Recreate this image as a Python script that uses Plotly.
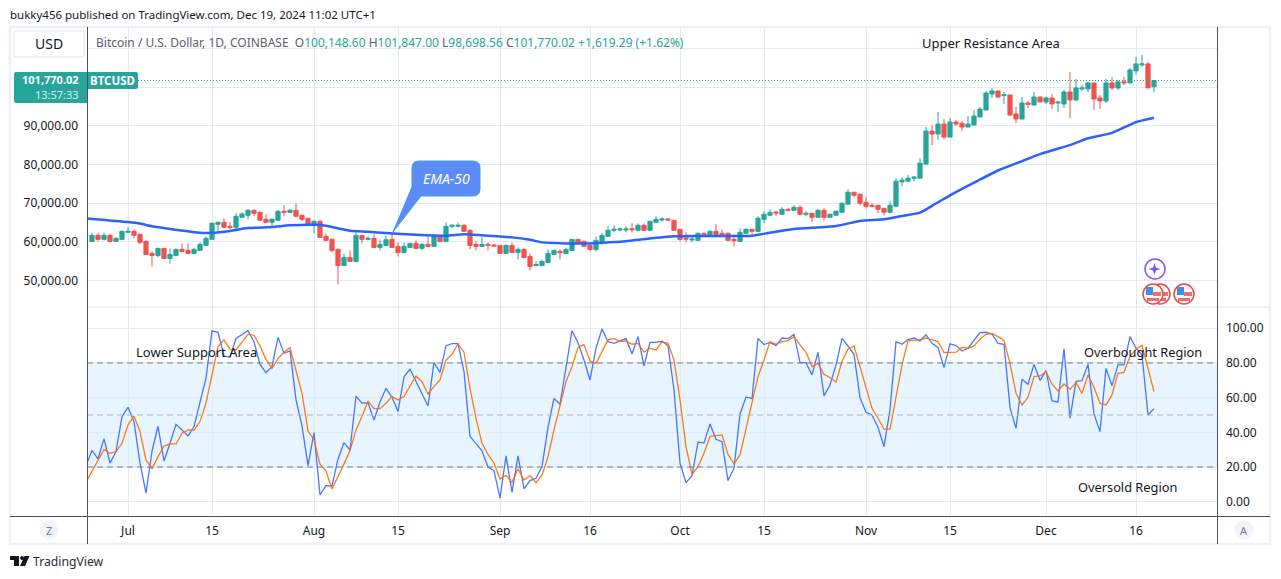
import pandas as pd
import plotly.graph_objects as go

# BTCUSD daily candles, thousands of USD (25 Jun - 19 Dec 2024)
opens = [
    60.09, 61.65, 60.61, 61.65, 60.09, 60.61, 62.43, 62.69, 61.91, 60.09,
    56.97, 56.45, 58.27, 55.67, 56.45, 58.01, 57.75, 56.97, 57.75, 59.05,
    60.61, 64.51, 65.03, 63.99, 63.73, 66.33, 66.85, 68.14, 67.62, 65.81,
    65.03, 65.55, 67.88, 67.62, 68.14, 66.85, 66.07, 64.25, 65.29, 61.39,
    60.61, 58.01, 53.85, 55.93, 54.89, 61.65, 60.61, 60.87, 58.53, 59.05,
    60.61, 58.79, 57.23, 58.53, 59.57, 58.27, 59.31, 58.79, 61.39, 60.09,
    63.99, 63.99, 64.25, 62.95, 59.31, 58.79, 59.31, 59.14, 59.05, 56.97,
    59.05, 57.23, 58.01, 56.19, 53.85, 53.85, 54.63, 56.71, 57.49, 56.97,
    57.75, 60.61, 60.09, 59.05, 58.01, 60.09, 61.39, 62.95, 63.04, 63.04,
    63.38, 62.95, 64.25, 62.95, 65.03, 65.63, 65.89, 65.55, 63.21, 60.96,
    60.44, 60.35, 62.17, 61.39, 62.69, 62.17, 62.17, 60.61, 60.09, 62.17,
    63.21, 62.69, 65.81, 66.85, 67.71, 67.10, 68.40, 68.14, 68.92, 67.10,
    67.36, 66.33, 68.14, 66.33, 66.85, 67.62, 69.70, 72.82, 72.30, 70.22,
    69.44, 69.44, 68.66, 67.62, 69.18, 75.50, 75.68, 76.46, 76.46, 80.10,
    88.67, 87.89, 90.49, 87.11, 91.01, 90.66, 89.71, 90.23, 92.31, 94.12,
    98.28, 99.06, 97.85, 98.02, 93.09, 91.79, 95.94, 95.42, 97.50, 96.20,
    97.24, 95.94, 95.68, 98.80, 96.72, 99.58, 99.58, 101.14, 97.24, 96.46,
    101.14, 99.84, 101.45, 101.14, 104.26, 105.82, 106.07, 100.15,
]
highs = [
    62.34, 62.34, 62.34, 62.08, 61.13, 62.95, 63.73, 63.21, 62.17, 60.35,
    57.49, 58.53, 58.45, 58.27, 58.27, 59.57, 59.57, 58.53, 59.83, 61.39,
    65.03, 65.29, 66.07, 65.03, 67.36, 67.62, 68.40, 68.40, 67.88, 67.10,
    66.07, 68.14, 69.44, 68.40, 69.96, 67.10, 66.07, 65.55, 65.55, 62.17,
    60.87, 58.27, 56.97, 57.75, 62.43, 61.65, 61.39, 61.91, 60.61, 61.56,
    62.26, 59.83, 59.83, 59.57, 60.35, 59.57, 61.39, 61.91, 61.56, 65.03,
    64.51, 65.03, 64.51, 63.21, 60.09, 61.13, 59.83, 59.31, 59.05, 59.31,
    59.83, 58.53, 58.27, 56.97, 54.89, 55.41, 58.01, 58.01, 58.01, 58.53,
    60.61, 60.61, 60.26, 59.31, 61.39, 62.34, 63.99, 64.25, 63.73, 63.99,
    64.77, 64.77, 64.77, 65.55, 66.59, 66.33, 66.07, 65.55, 63.21, 62.43,
    61.39, 62.43, 62.43, 62.95, 64.51, 63.21, 62.43, 61.91, 63.47, 63.47,
    63.21, 66.59, 67.88, 68.40, 67.88, 68.92, 68.66, 69.44, 69.44, 67.88,
    67.36, 68.40, 68.66, 67.36, 68.14, 70.22, 73.60, 72.82, 72.56, 71.52,
    69.96, 69.44, 68.66, 70.48, 76.46, 76.72, 77.24, 76.98, 81.65, 89.71,
    90.23, 93.60, 91.79, 92.05, 91.53, 91.27, 92.57, 94.12, 94.90, 99.06,
    99.84, 99.06, 98.80, 98.02, 94.90, 97.50, 96.46, 98.80, 97.50, 97.50,
    98.28, 96.20, 99.32, 104.00, 102.18, 100.62, 101.40, 101.14, 98.02, 102.18,
    102.70, 101.92, 102.70, 105.04, 107.89, 108.41, 106.59, 101.85,
]
lows = [
    60.09, 60.09, 60.35, 59.83, 60.09, 60.61, 62.43, 60.87, 59.31, 56.71,
    53.59, 55.93, 55.67, 54.37, 56.19, 57.23, 56.97, 56.71, 57.75, 59.05,
    60.61, 62.60, 63.73, 63.21, 63.21, 66.33, 65.81, 66.59, 65.55, 65.03,
    63.73, 65.55, 66.59, 67.36, 66.33, 65.29, 64.25, 62.17, 61.13, 60.09,
    57.23, 48.92, 53.85, 54.89, 54.63, 59.57, 60.35, 58.27, 57.75, 58.79,
    58.53, 56.19, 56.97, 58.53, 58.27, 57.75, 58.53, 58.79, 59.83, 60.09,
    63.47, 63.73, 62.69, 58.01, 57.75, 58.79, 57.75, 58.79, 56.97, 56.97,
    57.23, 55.41, 55.67, 52.56, 53.59, 53.59, 54.63, 56.71, 55.41, 56.97,
    57.75, 59.31, 58.79, 57.49, 57.49, 59.31, 61.39, 62.43, 62.69, 62.43,
    62.43, 62.69, 62.95, 62.69, 64.77, 65.29, 65.55, 62.95, 60.09, 59.83,
    59.83, 60.35, 61.56, 61.39, 61.91, 61.91, 60.35, 58.79, 60.09, 62.17,
    61.91, 62.43, 64.77, 66.85, 66.59, 67.10, 67.88, 68.14, 66.85, 66.59,
    65.03, 66.33, 65.55, 66.33, 66.85, 67.62, 69.70, 71.52, 69.44, 68.66,
    68.92, 67.36, 66.85, 67.36, 69.18, 74.38, 75.68, 75.68, 76.46, 80.10,
    85.03, 86.33, 86.59, 87.11, 89.97, 88.67, 89.71, 90.23, 92.31, 94.12,
    97.24, 97.24, 95.68, 92.57, 90.75, 91.79, 94.64, 95.42, 96.20, 95.68,
    94.38, 93.60, 94.64, 92.05, 96.46, 99.06, 98.80, 94.12, 94.38, 95.94,
    99.32, 99.32, 100.62, 101.14, 103.22, 105.30, 99.84, 98.70,
]
closes = [
    61.65, 60.61, 61.65, 60.09, 60.87, 62.69, 62.69, 61.65, 59.83, 56.71,
    56.45, 58.27, 55.67, 56.71, 58.01, 57.49, 56.97, 58.01, 59.31, 60.87,
    64.77, 65.03, 63.73, 63.73, 66.59, 67.19, 68.14, 67.36, 65.55, 65.03,
    65.81, 67.88, 67.62, 68.14, 66.59, 65.81, 64.25, 65.29, 61.13, 60.35,
    57.75, 53.85, 55.93, 54.89, 61.65, 60.61, 60.87, 58.53, 59.31, 60.52,
    58.53, 57.23, 58.79, 59.57, 58.27, 59.31, 58.79, 61.39, 60.09, 63.99,
    64.25, 64.25, 62.69, 59.05, 58.79, 59.31, 59.05, 58.88, 56.97, 59.05,
    57.23, 58.01, 55.93, 53.59, 54.11, 54.89, 56.97, 57.75, 57.14, 58.01,
    60.61, 59.57, 58.79, 58.01, 60.35, 61.65, 62.95, 63.21, 63.30, 63.30,
    63.12, 64.25, 62.95, 65.29, 65.81, 65.89, 65.63, 62.95, 60.61, 60.70,
    60.70, 62.17, 61.91, 62.69, 61.91, 61.91, 60.35, 60.26, 62.43, 63.21,
    62.69, 66.07, 67.10, 67.62, 67.45, 68.40, 68.14, 68.92, 67.10, 67.36,
    66.33, 68.14, 66.33, 67.10, 67.88, 69.96, 72.82, 72.04, 69.96, 69.18,
    69.18, 68.40, 67.62, 69.44, 75.68, 75.94, 76.46, 76.72, 80.35, 88.67,
    87.89, 90.49, 87.11, 91.01, 90.49, 89.71, 90.49, 92.57, 94.38, 98.54,
    99.06, 97.50, 98.11, 92.83, 91.79, 95.94, 95.59, 97.50, 96.20, 97.24,
    95.68, 96.20, 98.80, 96.72, 99.84, 99.84, 101.14, 96.98, 96.46, 101.14,
    99.84, 101.40, 101.14, 104.52, 106.07, 106.07, 99.84, 101.77,
]

# EMA-50, read at these dates only
ema_dates = [
    "2024-06-24", "2024-07-01", "2024-07-03", "2024-07-05", "2024-07-08", "2024-07-11",
    "2024-07-13", "2024-07-15", "2024-07-18", "2024-07-21", "2024-07-25", "2024-07-28",
    "2024-08-01", "2024-08-03", "2024-08-05", "2024-08-07", "2024-08-10", "2024-08-13",
    "2024-08-18", "2024-08-23", "2024-08-26", "2024-08-29", "2024-09-03", "2024-09-06",
    "2024-09-08", "2024-09-12", "2024-09-16", "2024-09-20", "2024-09-24", "2024-09-30",
    "2024-10-05", "2024-10-13", "2024-10-16", "2024-10-20", "2024-10-27", "2024-10-31",
    "2024-11-04", "2024-11-07", "2024-11-10", "2024-11-12", "2024-11-15", "2024-11-19",
    "2024-11-23", "2024-11-27", "2024-11-30", "2024-12-05", "2024-12-08", "2024-12-12",
    "2024-12-16", "2024-12-19",
]
ema_values = [
    66.07, 65.10, 64.70, 64.00, 63.30, 62.70,
    62.30, 62.30, 62.80, 63.55, 63.80, 64.25,
    64.40, 64.15, 63.47, 62.87, 62.60, 62.25,
    61.80, 61.56, 61.91, 61.65, 61.13, 60.50,
    59.83, 59.57, 59.57, 59.90, 60.50, 61.39,
    61.48, 61.56, 62.34, 63.30, 64.07, 65.37,
    65.81, 66.67, 67.54, 69.30, 72.00, 75.30,
    78.45, 80.90, 82.70, 85.03, 86.80, 88.20,
    91.00, 92.13,
]

# lower pane, K and D, one value a day from 24 Jun
stoch_k = [
    20.8, 29.6, 24.7, 36.4, 22.2, 28.9, 49.1, 54.4, 46.2, 22.2,
    4.9, 29.1, 43.5, 23.5, 33.7, 44.6, 41.4, 37.9, 43.3, 56.8,
    71.2, 98.5, 97.7, 84.0, 83.3, 94.2, 96.5, 98.6, 92.3, 79.2,
    74.4, 77.9, 94.8, 85.6, 86.9, 58.7, 43.7, 20.8, 39.8, 3.9,
    9.3, 9.1, 24.5, 34.1, 29.8, 60.8, 56.8, 57.0, 47.1, 57.5,
    65.4, 60.2, 52.0, 72.1, 76.4, 69.2, 62.5, 55.2, 80.2, 74.6,
    90.0, 91.2, 91.2, 75.0, 37.7, 33.5, 29.3, 20.0, 17.9, 2.0,
    26.4, 5.4, 26.4, 7.4, 12.2, 13.5, 20.2, 42.9, 59.6, 56.2,
    76.9, 98.6, 91.7, 81.7, 70.2, 88.5, 99.6, 92.3, 91.3, 92.7,
    94.0, 85.2, 95.2, 78.3, 91.9, 91.9, 92.5, 90.0, 64.4, 22.2,
    11.0, 15.0, 34.3, 33.9, 44.8, 36.0, 34.6, 12.2, 19.3, 50.6,
    60.4, 59.4, 94.2, 90.6, 91.9, 90.0, 94.4, 94.0, 96.5, 80.2,
    80.2, 73.1, 86.2, 61.0, 67.3, 78.9, 94.2, 89.8, 85.0, 60.0,
    51.6, 50.0, 42.9, 31.8, 52.9, 92.3, 90.8, 93.5, 94.4, 92.7,
    96.3, 91.3, 89.0, 77.3, 91.0, 90.0, 86.9, 88.5, 92.9, 97.5,
    97.7, 96.7, 91.3, 90.8, 54.4, 42.3, 70.6, 67.7, 79.2, 70.0,
    75.6, 58.1, 57.5, 88.1, 48.1, 69.4, 69.8, 79.2, 50.6, 40.4,
    76.9, 66.9, 78.9, 78.9, 95.2, 88.5, 84.6, 50.0, 53.7,
]
stoch_d = [
    11.2, 17.4, 24.1, 30.2, 27.9, 28.9, 33.7, 44.3, 49.4, 40.4,
    24.1, 18.9, 26.0, 32.1, 33.3, 33.3, 39.5, 41.4, 41.2, 46.2,
    56.8, 73.1, 89.4, 93.3, 87.9, 87.5, 92.3, 96.5, 96.0, 89.8,
    82.1, 76.9, 82.5, 86.2, 88.8, 76.0, 62.5, 40.8, 35.6, 21.6,
    17.7, 7.3, 14.1, 21.8, 29.5, 41.4, 49.1, 58.1, 53.7, 53.7,
    56.8, 60.6, 58.7, 60.6, 66.7, 72.5, 69.2, 62.1, 66.4, 70.2,
    81.7, 85.0, 91.0, 86.2, 65.4, 48.1, 33.7, 27.3, 22.2, 13.1,
    15.2, 11.2, 18.9, 12.5, 15.0, 11.0, 15.4, 26.0, 41.4, 54.8,
    69.2, 77.9, 89.0, 90.6, 81.2, 79.8, 86.5, 93.3, 94.2, 92.3,
    92.7, 90.8, 91.3, 86.2, 88.5, 87.5, 92.1, 91.3, 81.7, 58.7,
    31.8, 15.8, 20.2, 27.9, 37.7, 38.3, 38.5, 27.3, 21.8, 27.0,
    42.3, 56.8, 72.1, 81.7, 92.3, 90.8, 92.3, 92.9, 95.2, 90.4,
    86.2, 77.9, 79.8, 73.5, 71.6, 68.9, 80.8, 87.9, 89.8, 77.9,
    65.4, 53.9, 48.1, 41.8, 41.8, 60.6, 78.9, 92.7, 93.1, 93.5,
    94.4, 93.5, 92.3, 86.0, 86.0, 86.2, 89.0, 88.5, 89.8, 93.8,
    96.5, 97.1, 95.2, 92.9, 79.8, 62.5, 55.8, 60.2, 72.1, 72.5,
    75.0, 67.9, 63.9, 67.9, 64.8, 68.7, 62.5, 73.1, 66.0, 56.6,
    55.8, 61.6, 74.0, 74.6, 84.0, 87.9, 90.2, 76.9, 63.5,
]

tick_dates = ["2024-07-01", "2024-07-15", "2024-08-01", "2024-08-15", "2024-09-01", "2024-09-16",
              "2024-10-01", "2024-10-15", "2024-11-01", "2024-11-15", "2024-12-01", "2024-12-16"]
tick_labels = ["Jul", "15", "Aug", "15", "Sep", "16", "Oct", "15", "Nov", "15", "Dec", "16"]
price_ticks = [50000, 60000, 70000, 80000, 90000, 100000, 110000]
price_labels = ["50,000.00", "60,000.00", "70,000.00", "80,000.00", "90,000.00", " ", " "]
stoch_ticks = [0, 20, 40, 60, 80, 100]
stoch_labels = ["0.00", "20.00", "40.00", "60.00", "80.00", "100.00"]
last_close = 101770.02

W = 1281
H = 579
GREEN = "#26a69a"
RED = "#ef5350"
GRID = "#e1ecf2"
DARK = "#4c525e"
TEXT = "#131722"
FONT = "Noto Sans"


# pixel helpers, only for the furniture around the chart
def px(x):
    return x / W


def py(y):
    return 1 - y / H


dates = pd.date_range("2024-06-25", periods=len(closes), freq="D")
stoch_dates = pd.date_range("2024-06-24", periods=len(stoch_k), freq="D")

fig = go.Figure()

fig.add_trace(go.Candlestick(
    x=dates,
    open=[v * 1000 for v in opens],
    high=[v * 1000 for v in highs],
    low=[v * 1000 for v in lows],
    close=[v * 1000 for v in closes],
    increasing=dict(line=dict(color=GREEN, width=1), fillcolor=GREEN),
    decreasing=dict(line=dict(color=RED, width=1), fillcolor=RED),
    xaxis="x", yaxis="y", showlegend=False,
))
fig.add_trace(go.Scatter(
    x=ema_dates, y=[v * 1000 for v in ema_values], mode="lines",
    line=dict(color="#2962ff", width=2.5, shape="spline", smoothing=0.6),
    xaxis="x", yaxis="y", showlegend=False,
))
fig.add_trace(go.Scatter(
    x=stoch_dates, y=stoch_k, mode="lines", line=dict(color="#2962ff", width=1.3),
    opacity=0.85, xaxis="x2", yaxis="y2", showlegend=False,
))
fig.add_trace(go.Scatter(
    x=stoch_dates, y=stoch_d, mode="lines", line=dict(color="#ff6d00", width=1.3),
    opacity=0.9, xaxis="x2", yaxis="y2", showlegend=False,
))

x_range = ["2024-06-24 04:00", "2024-12-29 12:00"]
axis_font = dict(family=FONT, size=12, color=TEXT)

fig.update_layout(
    width=W, height=H,
    margin=dict(l=0, r=0, t=0, b=0),
    paper_bgcolor="white", plot_bgcolor="white",
    boxgap=0.3, boxgroupgap=0,
    xaxis=dict(
        domain=[px(87), px(1217)], range=x_range, anchor="y", matches="x2",
        tickvals=tick_dates, ticktext=tick_labels, showticklabels=False, ticks="",
        showgrid=True, gridcolor=GRID, gridwidth=1, zeroline=False, showline=False,
        rangeslider=dict(visible=False),
    ),
    yaxis=dict(
        domain=[py(307), py(27)], range=[43090, 115630], anchor="x", side="left",
        tickvals=price_ticks, ticktext=price_labels, tickfont=axis_font, ticks="",
        ticklabelstandoff=8,
        showgrid=True, gridcolor=GRID, gridwidth=1, zeroline=False, showline=False,
    ),
    xaxis2=dict(
        domain=[px(87), px(1217)], range=x_range, anchor="y2",
        tickvals=tick_dates, ticktext=tick_labels, tickfont=axis_font, ticks="",
        ticklabelstandoff=6,
        showgrid=True, gridcolor=GRID, gridwidth=1, zeroline=False, showline=False,
    ),
    yaxis2=dict(
        domain=[py(516), py(307)], range=[-8.25, 112.28], anchor="x2", side="right",
        tickvals=stoch_ticks, ticktext=stoch_labels, tickfont=axis_font, ticks="",
        ticklabelstandoff=8,
        showgrid=True, gridcolor=GRID, gridwidth=1, zeroline=False, showline=False,
    ),
)

shapes = []
# overbought / oversold band and its dashes
shapes.append(dict(type="rect", xref="x2 domain", yref="y2", x0=0, x1=1, y0=20, y1=80,
                   fillcolor="rgba(33,150,243,0.1)", line_width=0, layer="below"))
for level, colour in [(80, "#787b86"), (50, "#b2b5be"), (20, "#787b86")]:
    shapes.append(dict(type="line", xref="x2 domain", yref="y2", x0=0, x1=1, y0=level, y1=level,
                       line=dict(color=colour, width=1, dash="6px,4px")))
# last price line
shapes.append(dict(type="line", xref="x domain", yref="y", x0=(138 - 87) / (1217 - 87), x1=1,
                   y0=last_close, y1=last_close, line=dict(color=GREEN, width=1, dash="1px,2px")))

# frame and pane borders
frame = dict(xref="paper", yref="paper")
shapes.append(dict(type="rect", x0=px(10), x1=px(1270), y0=py(544), y1=py(27),
                   line=dict(color="#eef0f5", width=2.5), **frame))
shapes.append(dict(type="line", x0=px(87), x1=px(1270), y0=py(307), y1=py(307),
                   line=dict(color="#e0e3eb", width=1), **frame))
shapes.append(dict(type="line", x0=px(10), x1=px(1270), y0=py(516.5), y1=py(516.5),
                   line=dict(color=DARK, width=1), **frame))
shapes.append(dict(type="line", x0=px(87.5), x1=px(87.5), y0=py(544), y1=py(27),
                   line=dict(color=DARK, width=1), **frame))
shapes.append(dict(type="line", x0=px(1217.5), x1=px(1217.5), y0=py(544), y1=py(27),
                   line=dict(color=DARK, width=1), **frame))

# USD button
shapes.append(dict(type="path", path=(
    f"M {px(17)} {py(31)} L {px(81)} {py(31)} Q {px(84)} {py(31)} {px(84)} {py(34)} "
    f"L {px(84)} {py(54)} Q {px(84)} {py(57)} {px(81)} {py(57)} L {px(17)} {py(57)} "
    f"Q {px(14)} {py(57)} {px(14)} {py(54)} L {px(14)} {py(34)} Q {px(14)} {py(31)} {px(17)} {py(31)} Z"),
    line=dict(color="#eceef3", width=1.5), fillcolor="white", **frame))
# price tags
shapes.append(dict(type="path", path=(
    f"M {px(16)} {py(72)} L {px(87)} {py(72)} L {px(87)} {py(103)} L {px(16)} {py(103)} "
    f"Q {px(14)} {py(103)} {px(14)} {py(101)} L {px(14)} {py(74)} Q {px(14)} {py(72)} {px(16)} {py(72)} Z"),
    line_width=0, fillcolor=GREEN, **frame))
shapes.append(dict(type="path", path=(
    f"M {px(88)} {py(72)} L {px(136)} {py(72)} Q {px(138)} {py(72)} {px(138)} {py(74)} "
    f"L {px(138)} {py(87)} Q {px(138)} {py(89)} {px(136)} {py(89)} L {px(88)} {py(89)} Z"),
    line_width=0, fillcolor=GREEN, **frame))

# EMA-50 callout with its tail
shapes.append(dict(type="path", path=(
    f"M {px(393)} {py(232)} L {px(412)} {py(187)} L {px(412)} {py(168)} "
    f"Q {px(412)} {py(161)} {px(419)} {py(161)} L {px(473)} {py(161)} "
    f"Q {px(480)} {py(161)} {px(480)} {py(168)} L {px(480)} {py(189)} "
    f"Q {px(480)} {py(196)} {px(473)} {py(196)} L {px(421)} {py(196)} Z"),
    line=dict(color="#3d9fd8", width=1), fillcolor="#5b8cf7", **frame))

# Z and A buttons
for cx in (49, 1244):
    shapes.append(dict(type="circle", x0=px(cx - 9.5), x1=px(cx + 9.5), y0=py(539.5), y1=py(520.5),
                       line_width=0, fillcolor="#f0f3fa", **frame))

# event icons, purple star and the US flags
shapes.append(dict(type="circle", x0=px(1145), x1=px(1165), y0=py(279), y1=py(259),
                   line=dict(color="#7e57ff", width=1.5), fillcolor="white", **frame))
cx, cy = 1154.5, 269
shapes.append(dict(type="path", path=(
    f"M {px(cx)} {py(cy - 6)} L {px(cx + 1.5)} {py(cy - 1.5)} L {px(cx + 6)} {py(cy)} "
    f"L {px(cx + 1.5)} {py(cy + 1.5)} L {px(cx)} {py(cy + 6)} L {px(cx - 1.5)} {py(cy + 1.5)} "
    f"L {px(cx - 6)} {py(cy)} L {px(cx - 1.5)} {py(cy - 1.5)} Z"),
    line_width=0, fillcolor="#7e57ff", **frame))
for cx in (1160, 1153, 1184):
    cy = 294
    shapes.append(dict(type="circle", x0=px(cx - 10), x1=px(cx + 10), y0=py(cy + 10), y1=py(cy - 10),
                       line=dict(color="#ef4444", width=1.5), fillcolor="white", **frame))
    # stripes, then the blue corner over them
    shapes.append(dict(type="rect", x0=px(cx), x1=px(cx + 8), y0=py(cy + 2), y1=py(cy - 2),
                       line_width=0, fillcolor="#f26d6d", **frame))
    shapes.append(dict(type="rect", x0=px(cx - 6), x1=px(cx + 6), y0=py(cy + 7), y1=py(cy + 4),
                       line_width=0, fillcolor="#f26d6d", **frame))
    shapes.append(dict(type="rect", x0=px(cx - 7), x1=px(cx), y0=py(cy + 1), y1=py(cy - 7),
                       line_width=0, fillcolor="#3f8fe8", **frame))

# TradingView mark
shapes.append(dict(type="path", path=(
    f"M {px(10)} {py(556)} L {px(19)} {py(556)} L {px(19)} {py(566)} L {px(14)} {py(566)} "
    f"L {px(14)} {py(560)} L {px(10)} {py(560)} Z"), line_width=0, fillcolor=TEXT, **frame))
shapes.append(dict(type="circle", x0=px(20), x1=px(24), y0=py(560), y1=py(556),
                   line_width=0, fillcolor=TEXT, **frame))
shapes.append(dict(type="path", path=(
    f"M {px(24.5)} {py(556)} L {px(29.5)} {py(556)} L {px(25)} {py(566)} L {px(20)} {py(566)} Z"),
    line_width=0, fillcolor=TEXT, **frame))

fig.update_layout(shapes=shapes)


def label(x, y, text, size=13, color=TEXT, xanchor="left", **kw):
    fig.add_annotation(xref="paper", yref="paper", x=px(x), y=py(y), text=text, showarrow=False,
                       xanchor=xanchor, yanchor="middle", borderpad=0,
                       font=dict(family=FONT, size=size, color=color), **kw)


grey = "#5d606b"
teal = f'<span style="color:{GREEN}">'
legend_text = (
    f'<span style="color:{grey}">Bitcoin / U.S. Dollar, 1D, COINBASE &nbsp;O</span>{teal}100,148.60</span>'
    f'<span style="color:{grey}"> H</span>{teal}101,847.00</span>'
    f'<span style="color:{grey}"> L</span>{teal}98,698.56</span>'
    f'<span style="color:{grey}"> C</span>{teal}101,770.02 +1,619.29 (+1.62%)</span>'
)

label(9, 15, "bukky456 published on TradingView.com, Dec 19, 2024 11:02 UTC+1", size=11.5)
label(49, 44, "USD", size=14, xanchor="center")
label(95, 42, legend_text, size=12)
label(80, 79, "<b>101,770.02</b>", size=11, color="white", xanchor="right")
label(80, 94.5, "13:57:33", size=11, color="#d5f0ec", xanchor="right")
label(112.5, 80.5, "<b>BTCUSD</b>", size=11.5, color="white", xanchor="center")
label(921, 43, "Upper Resistance Area", size=13)
label(135, 352, "Lower Support Area", size=13)
label(1083, 352, "Overbought Region", size=12.8)
label(1077, 487, "Oversold Region", size=12.8)
label(446, 178, "<i>EMA-50</i>", size=14, color="white", xanchor="center")
label(49, 530, "Z", size=11, color="#787b86", xanchor="center")
label(1244, 530, "A", size=11, color="#787b86", xanchor="center")
label(32, 561, "TradingView", size=12.2, color="#2a2e39")

fig.write_html("out.html", config={"displayModeBar": False},
               post_script="document.body.style.margin='0';document.body.style.overflow='hidden';")
